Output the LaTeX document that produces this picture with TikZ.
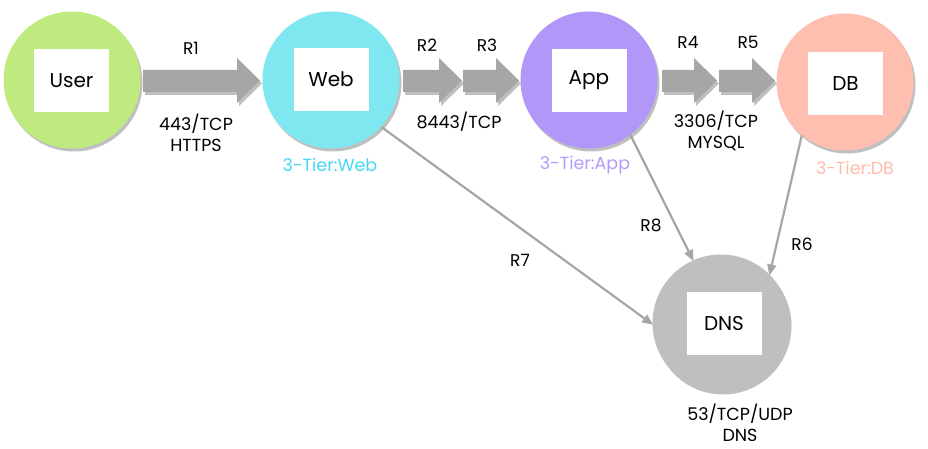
\documentclass[tikz,border=0pt]{standalone}
\usepackage{fontspec}
\setmainfont{Poppins}
\usetikzlibrary{arrows.meta,shadows}
\definecolor{usergreen}{HTML}{BEEA80}
\definecolor{webcyan}{HTML}{7EE7EF}
\definecolor{apppurple}{HTML}{B197F8}
\definecolor{dbsalmon}{HTML}{FFBFB0}
\definecolor{dnsgray}{HTML}{BFBFBF}
\definecolor{arrowgray}{HTML}{A6A6A6}
\definecolor{webtext}{HTML}{45D8F2}
\definecolor{apptext}{HTML}{B39BF8}
\definecolor{dbtext}{HTML}{FFBBAA}
\tikzset{
  softshadow/.style={drop shadow={shadow xshift=2pt,shadow yshift=-3pt,opacity=.25,fill=black}},
  tier/.style={circle,minimum size=137pt,inner sep=0pt,softshadow},
  box/.style={fill=white,minimum width=75pt,minimum height=63pt,inner sep=0pt,font=\fontsize{20}{24}\selectfont},
  rlabel/.style={font=\fontsize{17}{20}\selectfont},
  port/.style={font=\fontsize{17.5}{21.5}\selectfont,align=center},
  tiername/.style={font=\fontsize{17.5}{21}\selectfont},
  thin/.style={draw=arrowgray,line width=2.2pt,-{Triangle[length=11pt,width=9pt]},shorten >=-1pt},
}
\begin{document}
\begin{tikzpicture}[x=1pt,y=-1pt]
            \useasboundingbox (0,0) rectangle (928,449);

            \node[tier,fill=usergreen] (user) at (72,80){};
            \node[tier,fill=webcyan] (web) at (331,80){};
            \node[tier,fill=apppurple] (app) at (589,80){};
            \node[tier,fill=dbsalmon] (db) at (845,82){};
            \node[tier,fill=dnsgray] (dns) at (721,323){};

            \node[box] (userbox) at (71.5,80.5){User};
            \node[box] (webbox) at (331,79.5){Web};
            \node[box] (appbox) at (589,80.5){App};
            \node[box] (dbbox) at (845.5,83.5){DB};
            \node[box] (dnsbox) at (724,323.5){DNS};

            % fat arrows along the tiers
            \foreach \s/\e in {143/260, 403/462, 463/519, 662/717, 719/775}
              \fill[arrowgray,softshadow] (\s,70) -- (\e-23,70) -- (\e-23,58) -- (\e,80.5)
                -- (\e-23,103) -- (\e-23,92) -- (\s,92) -- cycle;

            \draw[thin] (web.-43) -- (dns.181);
            \draw[thin] (app.-53) -- (dns.114);
            \draw[thin] (db.-129) -- (dns.45);

            \node[rlabel] (r1) at (191,48){R1};
            \node[rlabel] (r2) at (427,45){R2};
            \node[rlabel] (r3) at (487,45){R3};
            \node[rlabel] (r4) at (688,42){R4};
            \node[rlabel] (r5) at (748,42){R5};
            \node[rlabel] (r6) at (802,244){R6};
            \node[rlabel] (r7) at (520,260){R7};
            \node[rlabel] (r8) at (651,225){R8};

            \node[port] (https) at (196,133){443/TCP\\HTTPS};
            \node[port] (tomcat) at (459,122){8443/TCP};
            \node[port] (mysql) at (716,131){3306/TCP\\MYSQL};
            \node[port] (dnsport) at (740,423){53/TCP/UDP\\DNS};

            \node[tiername,text=webtext] (webname) at (330,165){3-Tier:Web};
            \node[tiername,text=apptext] (appname) at (585,165){3-Tier:App};
            \node[tiername,text=dbtext] (dbname) at (855,168){3-Tier:DB};

            \end{tikzpicture}
\end{document}
